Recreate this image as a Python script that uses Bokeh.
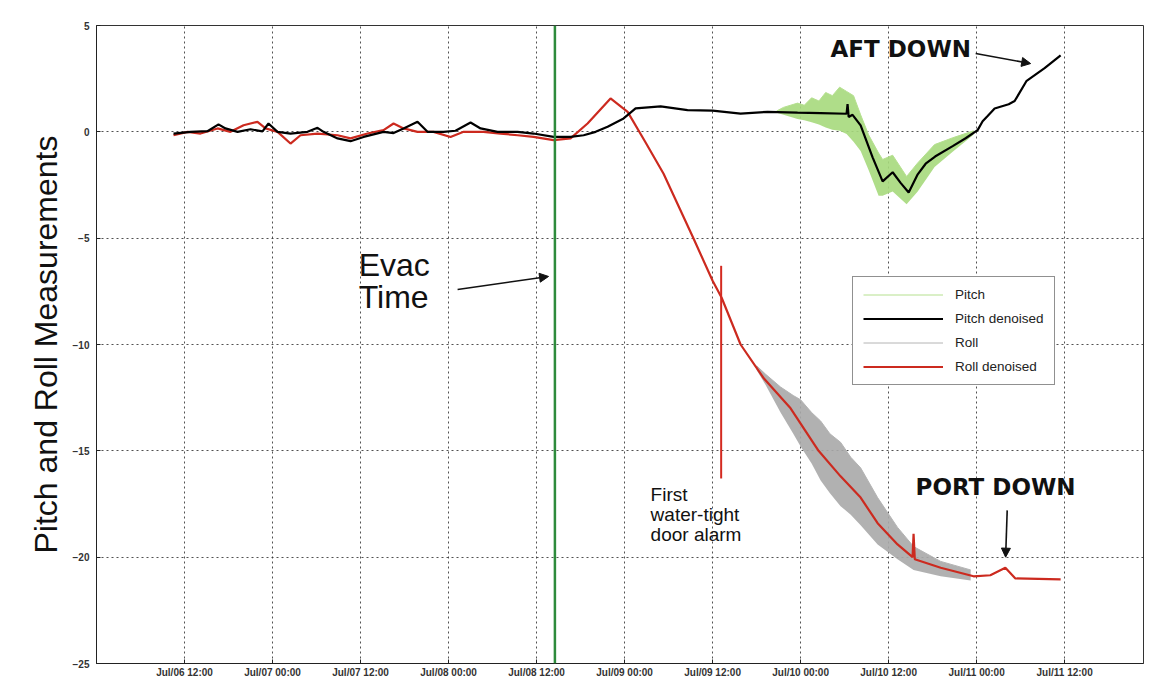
import pandas as pd
from bokeh.plotting import figure
from bokeh.models import (Range1d, FixedTicker, DatetimeTickFormatter, Span, Label,
                          Arrow, NormalHead, Legend, LegendItem, ColumnDataSource)
from bokeh.embed import file_html
from bokeh.resources import INLINE

YEAR = "2000-"

# ---------------- data ----------------
pitch_times = ["07-06 10:30", "07-06 12:49", "07-06 15:08", "07-06 16:38", "07-06 17:35",
               "07-06 19:14", "07-06 21:00", "07-06 22:38", "07-06 23:27", "07-07 00:41",
               "07-07 02:27", "07-07 04:46", "07-07 06:08", "07-07 06:57", "07-07 08:52",
               "07-07 10:38", "07-07 12:25", "07-07 15:08", "07-07 16:30", "07-07 17:52",
               "07-07 19:46", "07-07 21:08", "07-07 23:19", "07-08 00:57", "07-08 03:00",
               "07-08 04:22", "07-08 06:41", "07-08 09:25", "07-08 11:35", "07-08 14:19",
               "07-08 16:38", "07-08 18:25", "07-08 20:03", "07-08 21:41", "07-08 23:52",
               "07-09 01:30", "07-09 04:55", "07-09 08:35", "07-09 12:00", "07-09 15:49",
               "07-09 19:30", "07-09 23:35", "07-10 02:44", "07-10 06:16", "07-10 06:24",
               "07-10 06:33", "07-10 07:05", "07-10 08:11", "07-10 09:49", "07-10 11:11",
               "07-10 12:33", "07-10 13:38", "07-10 14:44", "07-10 15:58", "07-10 17:03",
               "07-10 18:20", "07-10 20:44", "07-10 22:30", "07-11 00:08", "07-11 00:49",
               "07-11 01:30", "07-11 02:27", "07-11 04:22", "07-11 05:11", "07-11 06:49",
               "07-11 09:16", "07-11 11:27"]
pitch_vals = [-0.08, 0.00, 0.03, 0.35, 0.16,
              0.00, 0.12, 0.02, 0.39, 0.00,
              -0.08, 0.00, 0.19, 0.00, -0.31,
              -0.44, -0.24, 0.00, -0.06, 0.16,
              0.47, 0.00, 0.00, 0.05, 0.44,
              0.16, 0.00, 0.00, -0.08, -0.24,
              -0.24, -0.16, 0.00, 0.24, 0.63,
              1.10, 1.20, 1.02, 1.00, 0.86,
              0.94, 0.90, 0.88, 0.85, 1.30,
              0.70, 0.80, 0.30, -1.20, -2.33,
              -1.90, -2.40, -2.85, -2.00, -1.50,
              -1.16, -0.67, -0.30, 0.08, 0.50,
              0.75, 1.10, 1.30, 1.45, 2.40,
              3.00, 3.60]

roll_times = ["07-06 10:30", "07-06 12:25", "07-06 14:11", "07-06 16:30", "07-06 18:16",
              "07-06 20:03", "07-06 21:57", "07-06 23:03", "07-07 00:41", "07-07 02:27",
              "07-07 03:49", "07-07 06:08", "07-07 08:52", "07-07 10:38", "07-07 12:57",
              "07-07 15:08", "07-07 16:30", "07-07 17:52", "07-07 19:46", "07-07 21:57",
              "07-08 00:16", "07-08 02:03", "07-08 04:46", "07-08 07:05", "07-08 09:25",
              "07-08 11:35", "07-08 14:19", "07-08 16:38", "07-08 18:57", "07-08 22:05",
              "07-09 00:25", "07-09 02:52", "07-09 05:19", "07-09 09:25", "07-09 12:00",
              "07-09 13:14", "07-09 15:49", "07-09 19:00", "07-09 22:38", "07-10 02:27",
              "07-10 05:27", "07-10 08:11", "07-10 10:30", "07-10 13:13", "07-10 15:16",
              "07-10 15:24", "07-10 15:34", "07-10 19:06", "07-10 23:35", "07-11 01:52",
              "07-11 03:55", "07-11 05:17", "07-11 11:27"]
roll_vals = [-0.16, 0.00, -0.08, 0.16, 0.00,
             0.31, 0.47, 0.16, 0.00, -0.55,
             -0.16, -0.08, -0.16, -0.31, -0.08,
             0.08, 0.39, 0.16, 0.00, 0.00,
             -0.24, 0.00, 0.00, -0.08, -0.16,
             -0.24, -0.39, -0.31, 0.39, 1.57,
             0.94, -0.50, -1.97, -5.03, -7.00,
             -7.80, -10.00, -11.60, -13.00, -15.00,
             -16.20, -17.20, -18.40, -19.40, -20.00,
             -18.90, -20.10, -20.50, -20.90, -20.85,
             -20.50, -21.00, -21.04]

pitch_raw_times = ["07-09 20:44", "07-09 21:40", "07-09 23:35", "07-10 00:30", "07-10 01:30",
                   "07-10 02:30", "07-10 03:25", "07-10 04:20", "07-10 05:19", "07-10 06:16",
                   "07-10 07:13", "07-10 08:11", "07-10 09:16", "07-10 10:38", "07-10 11:11",
                   "07-10 12:33", "07-10 14:27", "07-10 15:58", "07-10 18:16", "07-10 20:44",
                   "07-10 23:35"]
pitch_raw_hi = [0.98, 1.15, 1.35, 1.25, 1.60, 1.45, 1.85, 1.70, 2.10, 1.90,
                1.70, 0.80, -0.14, -1.00, -1.30, -1.10, -2.10, -1.46, -0.60, -0.28, 0.05]
pitch_raw_lo = [0.90, 0.80, 0.60, 0.55, 0.45, 0.35, 0.20, 0.10, 0.05, -0.10,
                -0.47, -0.90, -1.80, -3.00, -3.00, -2.80, -3.40, -2.80, -1.65, -0.94, -0.14]

roll_raw_times = ["07-09 18:00", "07-09 19:14", "07-09 21:16", "07-09 23:00", "07-10 00:00",
                  "07-10 01:30", "07-10 02:44", "07-10 04:00", "07-10 05:27", "07-10 06:50",
                  "07-10 08:11", "07-10 10:30", "07-10 13:13", "07-10 15:24", "07-10 19:06",
                  "07-10 23:11"]
roll_raw_hi = [-11.0, -11.4, -12.0, -12.4, -12.6, -13.2, -13.6, -14.2, -14.6, -15.3,
               -15.8, -17.2, -18.6, -19.5, -20.2, -20.6]
roll_raw_lo = [-11.2, -11.9, -13.2, -14.2, -14.8, -15.6, -16.4, -17.0, -17.6, -18.0,
               -18.5, -19.4, -20.1, -20.6, -20.9, -21.1]

x_tick_times = ["07-06 12:00", "07-07 00:00", "07-07 12:00", "07-08 00:00", "07-08 12:00",
                "07-09 00:00", "07-09 12:00", "07-10 00:00", "07-10 12:00", "07-11 00:00",
                "07-11 12:00"]
y_ticks = [-25, -20, -15, -10, -5, 0, 5]
legend_labels = ["Pitch", "Pitch denoised", "Roll", "Roll denoised"]

evac_time = "07-08 14:30"
alarm_time = "07-09 13:10"
alarm_top, alarm_bottom = -6.3, -16.3


def ts(s):
    return pd.to_datetime([YEAR + t for t in s])


def ms(s):
    return pd.Timestamp(YEAR + s).value / 1e6


FONT = "Liberation Sans"

p = figure(width=1150, height=682, x_axis_type="datetime", output_backend="svg",
           toolbar_location=None,
           x_range=Range1d(ms("07-06 00:00"), ms("07-11 22:45")),
           y_range=Range1d(-25, 5),
           min_border_left=96, min_border_right=7, min_border_top=25, min_border_bottom=19)
p.background_fill_color = "white"
p.border_fill_color = "white"
p.outline_line_color = "#333333"
p.outline_line_width = 1

# bands (raw measurements)
pr = ColumnDataSource(dict(t=ts(pitch_raw_times), hi=pitch_raw_hi, lo=pitch_raw_lo))
rr = ColumnDataSource(dict(t=ts(roll_raw_times), hi=roll_raw_hi, lo=roll_raw_lo))
p.varea(x="t", y1="lo", y2="hi", source=rr, fill_color="#a9a9a9", fill_alpha=0.9)
roll_raw_line = p.line(x="t", y="hi", source=rr, line_color="#b4b4b4", line_width=1)
p.varea(x="t", y1="lo", y2="hi", source=pr, fill_color="#a6d97c", fill_alpha=0.9)
pitch_raw_line = p.line(x="t", y="hi", source=pr, line_color="#b5e08f", line_width=1)

# denoised lines
roll_line = p.line(ts(roll_times), roll_vals, line_color="#cc2a1f", line_width=2.2)
pitch_line = p.line(ts(pitch_times), pitch_vals, line_color="black", line_width=2.2)

# evac time and alarm markers
p.add_layout(Span(location=ms(evac_time), dimension="height", line_color="#2e8b3c",
                  line_width=2.5))
p.segment(x0=[ms(alarm_time)], y0=[alarm_top], x1=[ms(alarm_time)], y1=[alarm_bottom],
          line_color="#d42a20", line_width=2)

# axes
p.xaxis.ticker = FixedTicker(ticks=[ms(t) for t in x_tick_times])
fmt = "%b/%d %H:%M"
p.xaxis.formatter = DatetimeTickFormatter(hours=fmt, hourmin=fmt, days=fmt, months=fmt,
                                          minutes=fmt, minsec=fmt, seconds=fmt, years=fmt)
p.yaxis.ticker = FixedTicker(ticks=y_ticks)
for ax in (p.xaxis, p.yaxis):
    ax.major_label_text_font = FONT
    ax.major_label_text_font_size = "10px"
    ax.major_label_text_font_style = "bold"
    ax.major_label_text_color = "#333333"
    ax.major_tick_in = 4
    ax.major_tick_out = 0
    ax.minor_tick_in = 0
    ax.minor_tick_out = 0
    ax.axis_line_color = "#222222"
    ax.major_tick_line_color = "#222222"
p.xaxis.major_label_standoff = 3
p.yaxis.major_label_standoff = 7
p.yaxis.axis_label = "Pitch and Roll Measurements"
p.yaxis.axis_label_text_font = FONT
p.yaxis.axis_label_text_font_style = "normal"
p.yaxis.axis_label_text_font_size = "32px"
p.yaxis.axis_label_text_color = "#111111"
p.yaxis.axis_label_standoff = 6

for g in (p.xgrid, p.ygrid):
    g.grid_line_color = "#333333"
    g.grid_line_dash = "2 3"
    g.grid_line_width = 1
    g.grid_line_alpha = 0.85

# annotations
def lab(x, y, text, size, bold=False, family=FONT):
    p.add_layout(Label(x=ms(x), y=y, text=text, text_font=family,
                       text_font_size=size, text_font_style="bold" if bold else "normal",
                       text_color="#111111", text_baseline="middle", text_align="left"))

lab("07-07 11:45", -6.25, "Evac", "32px")
lab("07-07 11:45", -7.75, "Time", "32px")
lab("07-09 03:33", -17.05, "First", "19px")
lab("07-09 03:33", -18.0, "water-tight", "19px")
lab("07-09 03:33", -18.95, "door alarm", "19px")
lab("07-10 04:05", 3.89, "AFT DOWN", "23px", bold=True, family="DejaVu Sans")
lab("07-10 15:40", -16.72, "PORT DOWN", "23px", bold=True, family="DejaVu Sans")

def arrow(x0, y0, x1, y1):
    p.add_layout(Arrow(end=NormalHead(size=9, fill_color="#111111", line_color="#111111"),
                       x_start=ms(x0), y_start=y0, x_end=ms(x1), y_end=y1,
                       line_color="#111111", line_width=1.6))

arrow("07-08 01:14", -7.41, "07-08 13:38", -6.8)
arrow("07-10 23:52", 3.68, "07-11 07:22", 3.21)
arrow("07-11 04:10", -17.8, "07-11 03:57", -20.0)

legend = Legend(items=[LegendItem(label=legend_labels[0], renderers=[pitch_raw_line]),
                       LegendItem(label=legend_labels[1], renderers=[pitch_line]),
                       LegendItem(label=legend_labels[2], renderers=[roll_raw_line]),
                       LegendItem(label=legend_labels[3], renderers=[roll_line])],
                location=(756, 278), orientation="vertical",
                glyph_width=80, glyph_height=15, label_height=15, spacing=9, padding=10,
                label_standoff=12, label_width=88, margin=0,
                label_text_font=FONT, label_text_font_size="13.5px",
                label_text_color="#222222",
                border_line_color="#222222", border_line_width=1,
                background_fill_color="white", background_fill_alpha=1)
p.add_layout(legend)

open("out.html", "w").write(file_html(p, INLINE))
